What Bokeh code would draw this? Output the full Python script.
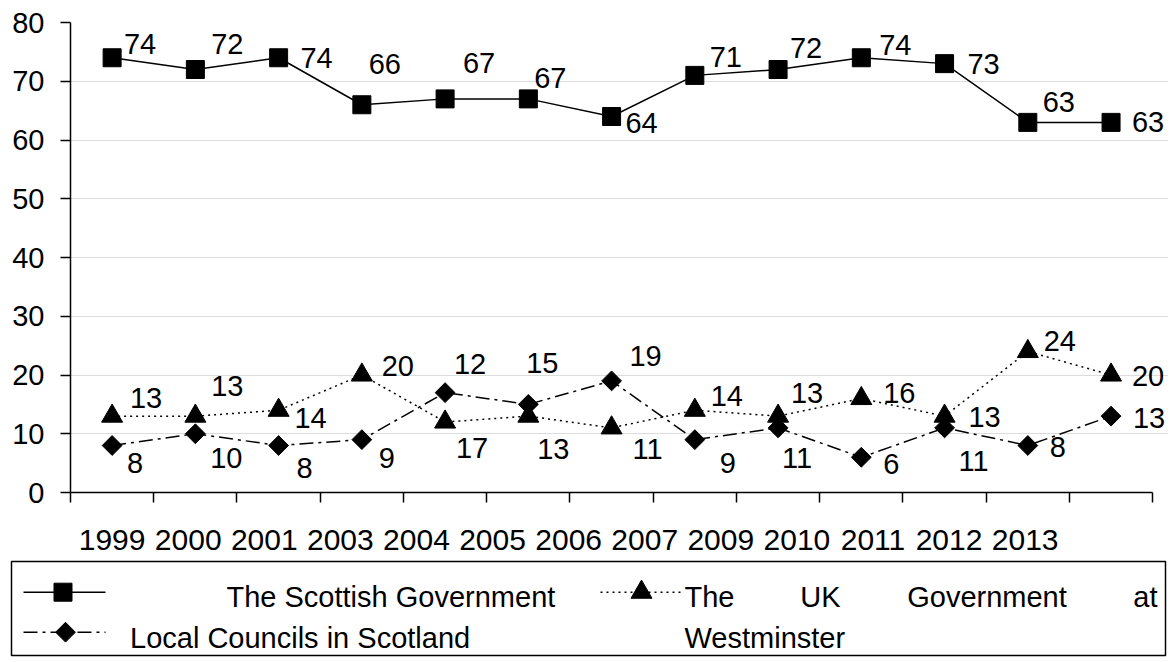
from bokeh.plotting import figure
from bokeh.models import (Range1d, FixedTicker, CustomJSTickFormatter,
                          ColumnDataSource, LabelSet)
from bokeh.embed import file_html
from bokeh.resources import INLINE
from bokeh.core.properties import value

# ---------------- data ----------------
years = ["1999", "2000", "2001", "2003", "2004", "2005", "2006",
         "2007", "2009", "2010", "2011", "2012", "2013"]
series_names = ["The Scottish Government",
                "The UK Government at Westminster",
                "Local Councils in Scotland"]
scottish = [74, 72, 74, 66, 67, 67, 64, 71, 72, 74, 73, 63, 63]
uk_gov = [13, 13, 14, 20, 12, 13, 11, 14, 13, 16, 13, 24, 20]
local = [8, 10, 8, 9, 17, 15, 19, 9, 11, 6, 11, 8, 13]

# ---------------- label placement (pixels, layout only; dy > 0 = down) ----------------
sq_dx = [28, 32, 38, 23, 34, 22, 30, 31, 28, 34, 39, 31, 37]
sq_dy = [-14, -26, 0, -41, -36, -21, 6, -18, -22, -13, 0, -20, 0]
tri_dx = [34, 32, 32, 36, 25, 25, 36, 32, 29, 38, 40, 32, 37]
tri_dy = [-18, -30, 8, -9, -58, 33, 21, -14, -23, -6, 1, -11, 1]
dia_dx = [23, 31, 26, 25, 27, 14, 34, 33, 19, 30, 29, 30, 38]
dia_dy = [17, 24, 22, 18, 55, -41, -25, 23, 30, 7, 33, 1, 2]

FONT = "Liberation Sans"
FS = "29px"
W = 1168
LABEL_PITCH = 0.914   # the year labels run closer together than the categories
RIGHT_PAD = 0.19      # extra room (in categories) so right-hand labels are not clipped

n = len(years)
xs = list(range(n))
x_lo, x_hi = -0.5, n - 0.5

p = figure(width=W, height=558, output_backend="svg", toolbar_location=None,
           x_range=Range1d(x_lo, x_hi + RIGHT_PAD), y_range=Range1d(0, 80),
           min_border_left=70, min_border_right=0, min_border_top=22,
           min_border_bottom=66)
p.outline_line_color = None
p.background_fill_color = "white"
p.border_fill_color = "white"
p.xgrid.visible = False
p.ygrid.grid_line_color = "#dcdcdc"
p.ygrid.grid_line_width = 1
p.ygrid.bounds = (x_lo, x_hi)

# y axis
p.yaxis.ticker = FixedTicker(ticks=list(range(0, 81, 10)))
p.yaxis.axis_line_color = "black"
p.yaxis.axis_line_width = 1.5
p.yaxis.major_tick_out = 10
p.yaxis.major_tick_in = 0
p.yaxis.major_tick_line_width = 1.5
p.yaxis.minor_tick_line_color = None
p.yaxis.major_label_standoff = 16
p.yaxis.major_label_text_font = FONT
p.yaxis.major_label_text_font_size = FS
p.yaxis.major_label_text_color = "black"

# x axis: labels at their own pitch, boundary ticks as minor ticks
label_pos = [i * LABEL_PITCH for i in range(n)]
bounds = [i - 0.5 for i in range(n + 1)]
p.xaxis.ticker = FixedTicker(ticks=label_pos, minor_ticks=bounds)
p.xaxis.formatter = CustomJSTickFormatter(args=dict(labels=years),
                                          code="return labels[index] ?? ''")
p.xaxis.bounds = (x_lo, x_hi)
p.xaxis.axis_line_color = "black"
p.xaxis.axis_line_width = 1.5
p.xaxis.major_tick_line_color = None
p.xaxis.major_tick_out = 0
p.xaxis.major_tick_in = 0
p.xaxis.minor_tick_line_color = "black"
p.xaxis.minor_tick_line_width = 1.5
p.xaxis.minor_tick_out = 10
p.xaxis.minor_tick_in = 0
p.xaxis.major_label_standoff = 27
p.xaxis.major_label_text_font = FONT
p.xaxis.major_label_text_font_size = "30px"
p.xaxis.major_label_text_color = "black"


def make_src(vals, dx, dy):
    return ColumnDataSource(dict(x=xs, y=vals, t=[str(v) for v in vals],
                                 dx=dx, dy=[-d for d in dy]))


src_s = make_src(scottish, sq_dx, sq_dy)
src_u = make_src(uk_gov, tri_dx, tri_dy)
src_l = make_src(local, dia_dx, dia_dy)

p.line("x", "y", source=src_s, line_color="black", line_width=1.5)
p.line("x", "y", source=src_u, line_color="black", line_width=1.5, line_dash="2 4")
p.line("x", "y", source=src_l, line_color="black", line_width=1.5, line_dash="14 5 3 5")

p.scatter("x", "y", source=src_u, marker="triangle", size=21,
          fill_color="black", line_color="black")
p.scatter("x", "y", source=src_l, marker="square", size=14, angle=0.785398,
          fill_color="black", line_color="black")
p.scatter("x", "y", source=src_s, marker="square", size=18,
          fill_color="black", line_color="black")

for src in (src_s, src_u, src_l):
    p.add_layout(LabelSet(x="x", y="y", text="t", source=src,
                          x_offset="dx", y_offset="dy",
                          text_font=value(FONT), text_font_size=FS,
                          text_align="center", text_baseline="middle",
                          text_color="black"))

# ---------------- legend (drawn as its own panel) ----------------
LH = 100
lg = figure(width=W, height=LH, output_backend="svg", toolbar_location=None,
            x_range=Range1d(0, W), y_range=Range1d(LH, 0),
            x_axis_type=None, y_axis_type=None, min_border=0)
lg.outline_line_color = None
lg.grid.visible = False
lg.background_fill_color = "white"
lg.border_fill_color = "white"

lg.quad(left=11, right=1165, top=3, bottom=97, fill_color=None,
        line_color="black", line_width=1.5)

row1, row2 = 33.7, 73.7
base1, base2 = 38.7, 79.3
# Scottish symbol
lg.segment(x0=[23], y0=[row1], x1=[105], y1=[row1], line_color="black", line_width=1.5)
lg.scatter(x=[62.5], y=[row1], marker="square", size=18, fill_color="black", line_color="black")
# Local councils symbol
lg.segment(x0=[23], y0=[row2], x1=[105], y1=[row2], line_color="black", line_width=1.5,
           line_dash="14 5 3 5")
lg.scatter(x=[65], y=[row2], marker="square", size=14, angle=0.785398,
           fill_color="black", line_color="black")
# UK symbol
lg.segment(x0=[600], y0=[row1], x1=[682], y1=[row1], line_color="black", line_width=1.5,
           line_dash="2 4")
lg.scatter(x=[641], y=[row1], marker="triangle", size=21, fill_color="black", line_color="black")

tkw = dict(text_font=value(FONT), text_font_size=FS, text_color="black",
           text_baseline="alphabetic")
lg.text(x=[226], y=[base1], text=[series_names[0]], text_align="left", **tkw)
lg.text(x=[129.5], y=[base2], text=[series_names[2]], text_align="left", **tkw)
uk_words = series_names[1].split()
lg.text(x=[684], y=[base1], text=[uk_words[0]], text_align="left", **tkw)
lg.text(x=[820], y=[base1], text=[uk_words[1]], text_align="center", **tkw)
lg.text(x=[986.5], y=[base1], text=[uk_words[2]], text_align="center", **tkw)
lg.text(x=[1157], y=[base1], text=[uk_words[3]], text_align="right", **tkw)
lg.text(x=[684], y=[base2], text=[" ".join(uk_words[4:])], text_align="left", **tkw)

open("out.html", "w").write(file_html([p, lg], INLINE))
